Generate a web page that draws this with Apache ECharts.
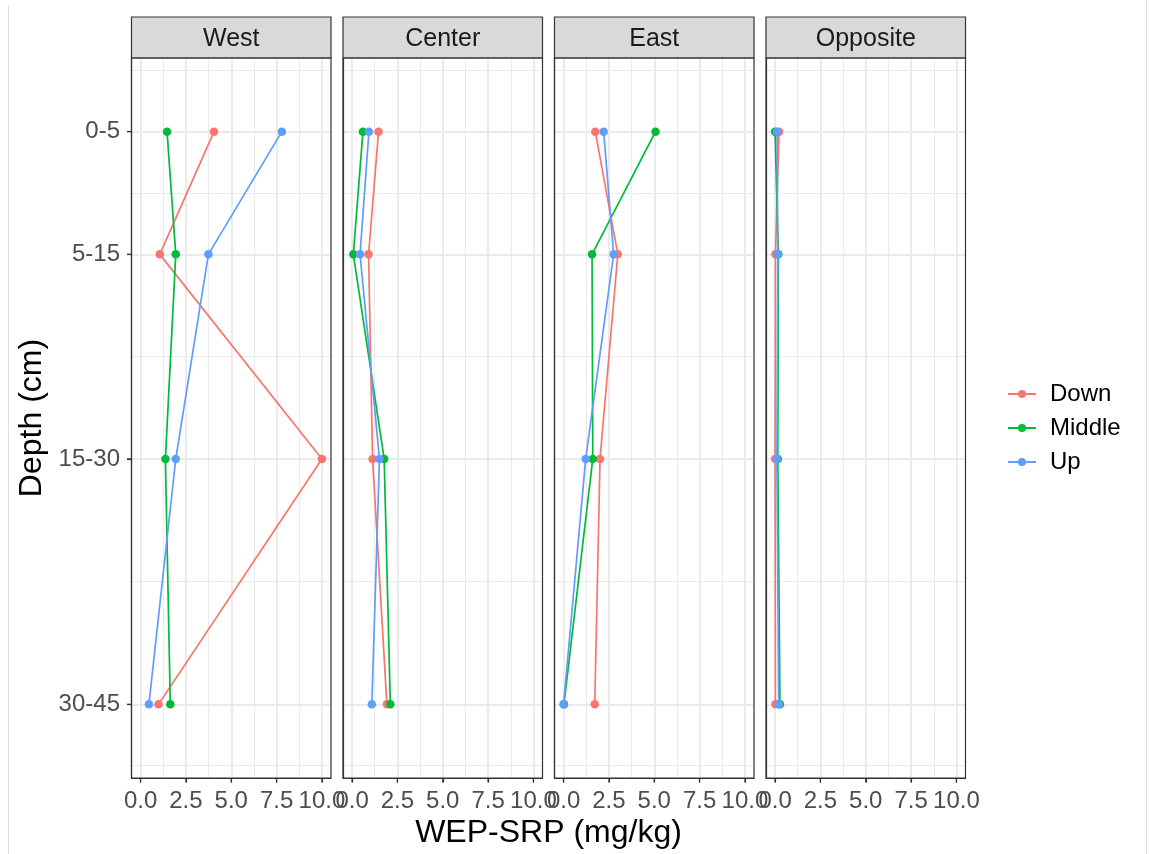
<!DOCTYPE html>
<html><head><meta charset="utf-8">
<script src="https://cdn.jsdelivr.net/npm/echarts@6/dist/echarts.min.js"></script>
<style>html,body{margin:0;padding:0;background:#fff}#c{width:1149px;height:854px}</style>
</head><body><div id="c"></div>
<script>
// ---- data ----
const sites = ['West', 'Center', 'East', 'Opposite'];
const groups = ['Down', 'Middle', 'Up'];
const depthLabels = ['0-5', '5-15', '15-30', '30-45'];
const depthMid = [2.5, 10, 22.5, 37.5];
const depthMinor = [-1.25, 6.25, 16.25, 30, 41.25];
const xTicks = [0, 2.5, 5, 7.5, 10];
const xMinor = [1.25, 3.75, 6.25, 8.75];
const groupColors = ['#F8766D', '#00BA38', '#619CFF'];

const westDown = [4.05, 1.06, 10.0, 0.99];
const westMiddle = [1.46, 1.94, 1.37, 1.64];
const westUp = [7.79, 3.74, 1.94, 0.46];
const centerDown = [1.46, 0.91, 1.13, 1.92];
const centerMiddle = [0.60, 0.07, 1.77, 2.11];
const centerUp = [0.93, 0.44, 1.51, 1.09];
const eastDown = [1.75, 2.99, 2.01, 1.72];
const eastMiddle = [5.07, 1.57, 1.61, 0.02];
const eastUp = [2.21, 2.76, 1.22, 0.0];
const oppositeDown = [0.22, 0.02, 0.0, 0.02];
const oppositeMiddle = [0.0, 0.18, 0.15, 0.27];
const oppositeUp = [0.11, 0.15, 0.10, 0.20];

const siteValues = [
  [westDown, westMiddle, westUp],
  [centerDown, centerMiddle, centerUp],
  [eastDown, eastMiddle, eastUp],
  [oppositeDown, oppositeMiddle, oppositeUp]
];

// ---- layout ----
const FONT = 'Liberation Sans, Arial, Helvetica, sans-serif';
const panelLeft0 = 131.5, panelW = 199.5, panelStep = 211.5;
const panelTop = 58, panelH = 720;
const stripTop = 17, stripH = 41;
const tickLen = 4.5;

const grids = [], xAxes = [], yAxes = [], series = [], graphics = [];

function labelFor(v) {
  for (let k = 0; k < depthMid.length; k++) if (Math.abs(depthMid[k] - v) < 1e-6) return depthLabels[k];
  return '';
}

sites.forEach((site, i) => {
  const left = panelLeft0 + i * panelStep;
  grids.push({ left: left, top: panelTop, width: panelW, height: panelH, containLabel: false });
  // main x axis
  xAxes.push({
    gridIndex: i, type: 'value', min: -0.5, max: 10.5, position: 'bottom',
    axisLine: { show: true, onZero: false, lineStyle: { color: '#333333', width: 1.2 } },
    axisTick: { show: true, customValues: xTicks, length: tickLen, lineStyle: { color: '#333333', width: 1.2 } },
    axisLabel: { show: true, customValues: xTicks, formatter: v => v.toFixed(1), fontSize: 24, color: '#4D4D4D', margin: 11, fontFamily: FONT },
    splitLine: { show: true, lineStyle: { color: '#EBEBEB', width: 2 } }
  });
  // minor x grid
  xAxes.push({
    gridIndex: i, type: 'value', min: -0.5, max: 10.5, position: 'top',
    axisLine: { show: false, onZero: false },
    axisTick: { show: false, customValues: xMinor },
    axisLabel: { show: false, customValues: xMinor },
    splitLine: { show: true, lineStyle: { color: '#EBEBEB', width: 1 } }
  });
  // main y axis
  yAxes.push({
    gridIndex: i, type: 'value', min: -2, max: 42, inverse: true, position: 'left',
    axisLine: { show: true, onZero: false, lineStyle: { color: '#333333', width: 1.2 } },
    axisTick: { show: i === 0, customValues: depthMid, length: tickLen, lineStyle: { color: '#333333', width: 1.2 } },
    axisLabel: { show: i === 0, customValues: depthMid, formatter: labelFor, fontSize: 24, color: '#4D4D4D', margin: 11.5, fontFamily: FONT },
    splitLine: { show: true, lineStyle: { color: '#EBEBEB', width: 2 } }
  });
  // minor y grid
  yAxes.push({
    gridIndex: i, type: 'value', min: -2, max: 42, inverse: true, position: 'right',
    axisLine: { show: false, onZero: false },
    axisTick: { show: false, customValues: depthMinor },
    axisLabel: { show: false, customValues: depthMinor },
    splitLine: { show: true, lineStyle: { color: '#EBEBEB', width: 1 } }
  });

  groups.forEach((g, j) => {
    const vals = siteValues[i][j];
    series.push({
      type: 'line', name: g, xAxisIndex: 2 * i, yAxisIndex: 2 * i,
      data: vals.map((v, k) => [v, depthMid[k]]),
      symbol: 'circle', symbolSize: 8.5, showSymbol: true,
      color: groupColors[j],
      lineStyle: { width: 1.7, color: groupColors[j] },
      itemStyle: { color: groupColors[j] },
      z: 3 + j, silent: true, animation: false, clip: false
    });
  });

  // strip
  graphics.push({
    type: 'rect', z: 100,
    shape: { x: left, y: stripTop, width: panelW, height: stripH },
    style: { fill: '#D9D9D9', stroke: '#333333', lineWidth: 1.2 }
  });
  graphics.push({
    type: 'text', z: 101, x: left + panelW / 2, y: stripTop + stripH / 2 + 2,
    style: { text: site, fontSize: 25, fontFamily: FONT, fill: '#1A1A1A', align: 'center', verticalAlign: 'middle' }
  });
  // panel border
  graphics.push({
    type: 'rect', z: 100,
    shape: { x: left, y: panelTop, width: panelW, height: panelH },
    style: { fill: 'none', stroke: '#333333', lineWidth: 1.2 }
  });
});

// axis titles
graphics.push({
  type: 'text', z: 101, x: panelLeft0 + (3 * panelStep + panelW) / 2, y: 833,
  style: { text: 'WEP-SRP (mg/kg)', fontSize: 32, fontFamily: FONT, fill: '#000000', align: 'center', verticalAlign: 'middle' }
});
graphics.push({
  type: 'text', z: 101, x: 32, y: panelTop + panelH / 2, rotation: Math.PI / 2,
  style: { text: 'Depth (cm)', fontSize: 32, fontFamily: FONT, fill: '#000000', align: 'center', verticalAlign: 'middle' }
});
// outer frame lines
graphics.push({ type: 'line', z: 100, shape: { x1: 8.5, y1: 5, x2: 8.5, y2: 854 }, style: { stroke: '#DDDDDD', lineWidth: 1 } });
graphics.push({ type: 'line', z: 100, shape: { x1: 1146.5, y1: 0, x2: 1146.5, y2: 854 }, style: { stroke: '#DDDDDD', lineWidth: 1 } });

const chart = echarts.init(document.getElementById('c'), null, { renderer: 'canvas' });
chart.setOption({
  backgroundColor: '#FFFFFF',
  animation: false,
  textStyle: { fontFamily: FONT },
  grid: grids,
  xAxis: xAxes,
  yAxis: yAxes,
  legend: {
    data: groups, orient: 'vertical', left: 1002, top: 377,
    itemWidth: 28, itemHeight: 10, itemGap: 10, selectedMode: false,
    textStyle: { fontSize: 24, lineHeight: 24, color: '#000000', fontFamily: FONT, padding: [0, 0, 0, 9] }
  },
  series: series,
  graphic: graphics
});

// axis tick marks, positioned through the chart's own scales
const tickGraphics = [];
const panelBottom = panelTop + panelH;
sites.forEach((site, i) => {
  xTicks.forEach(v => {
    const px = chart.convertToPixel({ xAxisIndex: 2 * i }, v);
    tickGraphics.push({ type: 'line', z: 102, shape: { x1: px, y1: panelBottom, x2: px, y2: panelBottom + tickLen }, style: { stroke: '#333333', lineWidth: 1.2 } });
  });
});
depthMid.forEach(v => {
  const py = chart.convertToPixel({ yAxisIndex: 0 }, v);
  tickGraphics.push({ type: 'line', z: 102, shape: { x1: panelLeft0 - tickLen, y1: py, x2: panelLeft0, y2: py }, style: { stroke: '#333333', lineWidth: 1.2 } });
});
chart.setOption({ graphic: graphics.concat(tickGraphics) });
</script>
</body></html>
